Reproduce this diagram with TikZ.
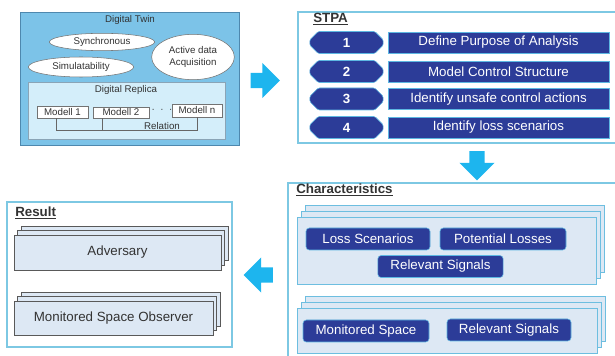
\documentclass[tikz,border=0pt]{standalone}
\usepackage{fontspec}
\setmainfont{Liberation Sans}
\usepackage{tikz}
\usetikzlibrary{shapes.geometric,shapes.misc,shapes.arrows,shadows,positioning}
\usepackage{xcolor}

\definecolor{dtfill}{HTML}{7CC3E8}
\definecolor{dtline}{HTML}{4E88AE}
\definecolor{replfill}{HTML}{D4EEFA}
\definecolor{replline}{HTML}{8AA4B6}
\definecolor{panelline}{HTML}{7DC8E3}
\definecolor{navy}{HTML}{2C3C98}
\definecolor{navyline}{HTML}{5DB7E2}
\definecolor{stackfill}{HTML}{DDE8F4}
\definecolor{stackline}{HTML}{6DBEE0}
\definecolor{arrowblue}{HTML}{1DB5EE}
\definecolor{darktext}{HTML}{333333}

\tikzset{
  dttext/.style={font=\fontsize{7.3}{8.5}\selectfont, text=darktext, inner sep=0pt},
  bubble/.style={ellipse, draw=black!55, fill=white, inner sep=0pt, dttext},
  modell/.style={rectangle, draw=black!55, fill=white, inner sep=0pt, dttext},
  paneltitle/.style={font=\bfseries\fontsize{10}{12}\selectfont, text=darktext, anchor=west, inner sep=0pt},
  stepnum/.style={chamfered rectangle, chamfered rectangle xsep=3.5pt, chamfered rectangle ysep=3pt,
    rounded corners=1pt, fill=navy, draw=navyline, text=white, font=\bfseries\fontsize{10}{12}\selectfont,
    minimum width=55pt, minimum height=16.5pt, inner sep=0pt},
  stepbox/.style={rectangle, fill=navy, draw=navyline, text=white,
    font=\fontsize{10}{12}\selectfont, minimum width=166pt, minimum height=16pt, inner sep=0pt},
  charbox/.style={rectangle, rounded corners=2.5pt, fill=navy, draw=navyline, text=white,
    font=\fontsize{10}{12}\selectfont, minimum height=16.5pt, inner sep=0pt},
  charstack/.style={rectangle, fill=stackfill, draw=stackline, inner sep=0pt,
    double copy shadow={shadow xshift=3pt, shadow yshift=4.5pt, fill=stackfill, draw=stackline}},
  resstack/.style={rectangle, fill=stackfill, draw=black!65, text=darktext,
    font=\fontsize{10}{12}\selectfont, inner sep=0pt,
    double copy shadow={shadow xshift=2.6pt, shadow yshift=3.4pt, fill=stackfill, draw=black!65}},
  bigarrow/.style={single arrow, fill=arrowblue, draw=none, inner sep=5.5pt,
    minimum width=26pt, minimum height=22pt, single arrow head extend=7.5pt}
}

\begin{document}
\begin{tikzpicture}[x=0.75pt,y=-0.75pt]

\clip (0,0) rectangle (615,356);

\filldraw[fill=dtfill, draw=dtline] (20,12) rectangle (239,145);
\node[dttext] (dttitle) at (130,20) {Digital Twin};
\node[bubble, minimum width=79pt, minimum height=13pt] (sync) at (102,42) {Synchronous};
\node[bubble, minimum width=79pt, minimum height=15pt] (simu) at (81,67) {Simulatability};
\node[bubble, minimum width=62pt, minimum height=34pt, align=center] (acq) at (193,57) {Active data\\Acquisition};

\filldraw[fill=replfill, draw=replline] (28,82) rectangle (225,139);
\node[dttext] (repltitle) at (126,90) {Digital Replica};
\node[modell, minimum width=38pt, minimum height=9pt] (m1) at (62.5,112) {Modell 1};
\node[modell, minimum width=42pt, minimum height=8.5pt] (m2) at (121,112.5) {Modell 2};
\node[modell, minimum width=37.5pt, minimum height=10pt] (mn) at (197,110.5) {Modell n};
\node[dttext] (dots) at (162,111) {\textperiodcentered\ \ \textperiodcentered\ \ \textperiodcentered};
\draw[draw=black!60, line width=0.6pt] ([xshift=-4.5pt]m1.south) -- ++(0,12) -| (mn.south);
\draw[draw=black!60, line width=0.6pt] ([xshift=-14pt]m2.south) -- ++(0,12);
\node[dttext] (rel) at (162,126) {Relation};

\node[bigarrow] (arrdt) at (261.5,80.5) {};

\draw[panelline, line width=0.8pt] (298,12) rectangle (625,143);
\node[paneltitle] (stpa) at (313,19) {\underline{STPA}};
\foreach \n/\y/\txt in {1/42.5/Define Purpose of Analysis,
                        2/71.5/Model Control Structure,
                        3/99/Identify unsafe control actions,
                        4/127.5/Identify loss scenarios}{
  \node[stepnum] (num\n) at (346.5,\y) {\n};
  \node[stepbox] (step\n) at (498.5,\y) {\txt};
}

\node[bigarrow, shape border rotate=270] (arrstpa) at (477,162) {};

\draw[panelline, line width=0.8pt] (288,183) rectangle (625,365);
\node[paneltitle] (chartitle) at (296,190) {\underline{Characteristics}};
\node[charstack, minimum width=224pt, minimum height=50pt] (lossstack) at (446.5,250.5) {};
\node[charbox, minimum width=93pt] (loss) at (368,239) {Loss Scenarios};
\node[charbox, minimum width=94.5pt] (potential) at (503,239) {Potential Losses};
\node[charbox, minimum width=94pt] (signals) at (440.5,266.5) {Relevant Signals};
\node[charstack, minimum width=225pt, minimum height=34pt] (spacestack) at (447,330.5) {};
\node[charbox, minimum width=94.5pt] (space) at (366,331) {Monitored Space};
\node[charbox, minimum width=93pt] (signalsb) at (509,330) {Relevant Signals};

\node[bigarrow, shape border rotate=180] (arrchar) at (262,275) {};

\draw[panelline, line width=0.8pt] (7,202) rectangle (232,347);
\node[paneltitle] (restitle) at (15,213) {\underline{Result}};
\node[resstack, minimum width=155pt, minimum height=26pt] (adv) at (117.5,252.5) {Adversary};
\node[resstack, minimum width=149pt, minimum height=25.5pt] (mso) at (113.5,318) {Monitored Space Observer};

\end{tikzpicture}
\end{document}
